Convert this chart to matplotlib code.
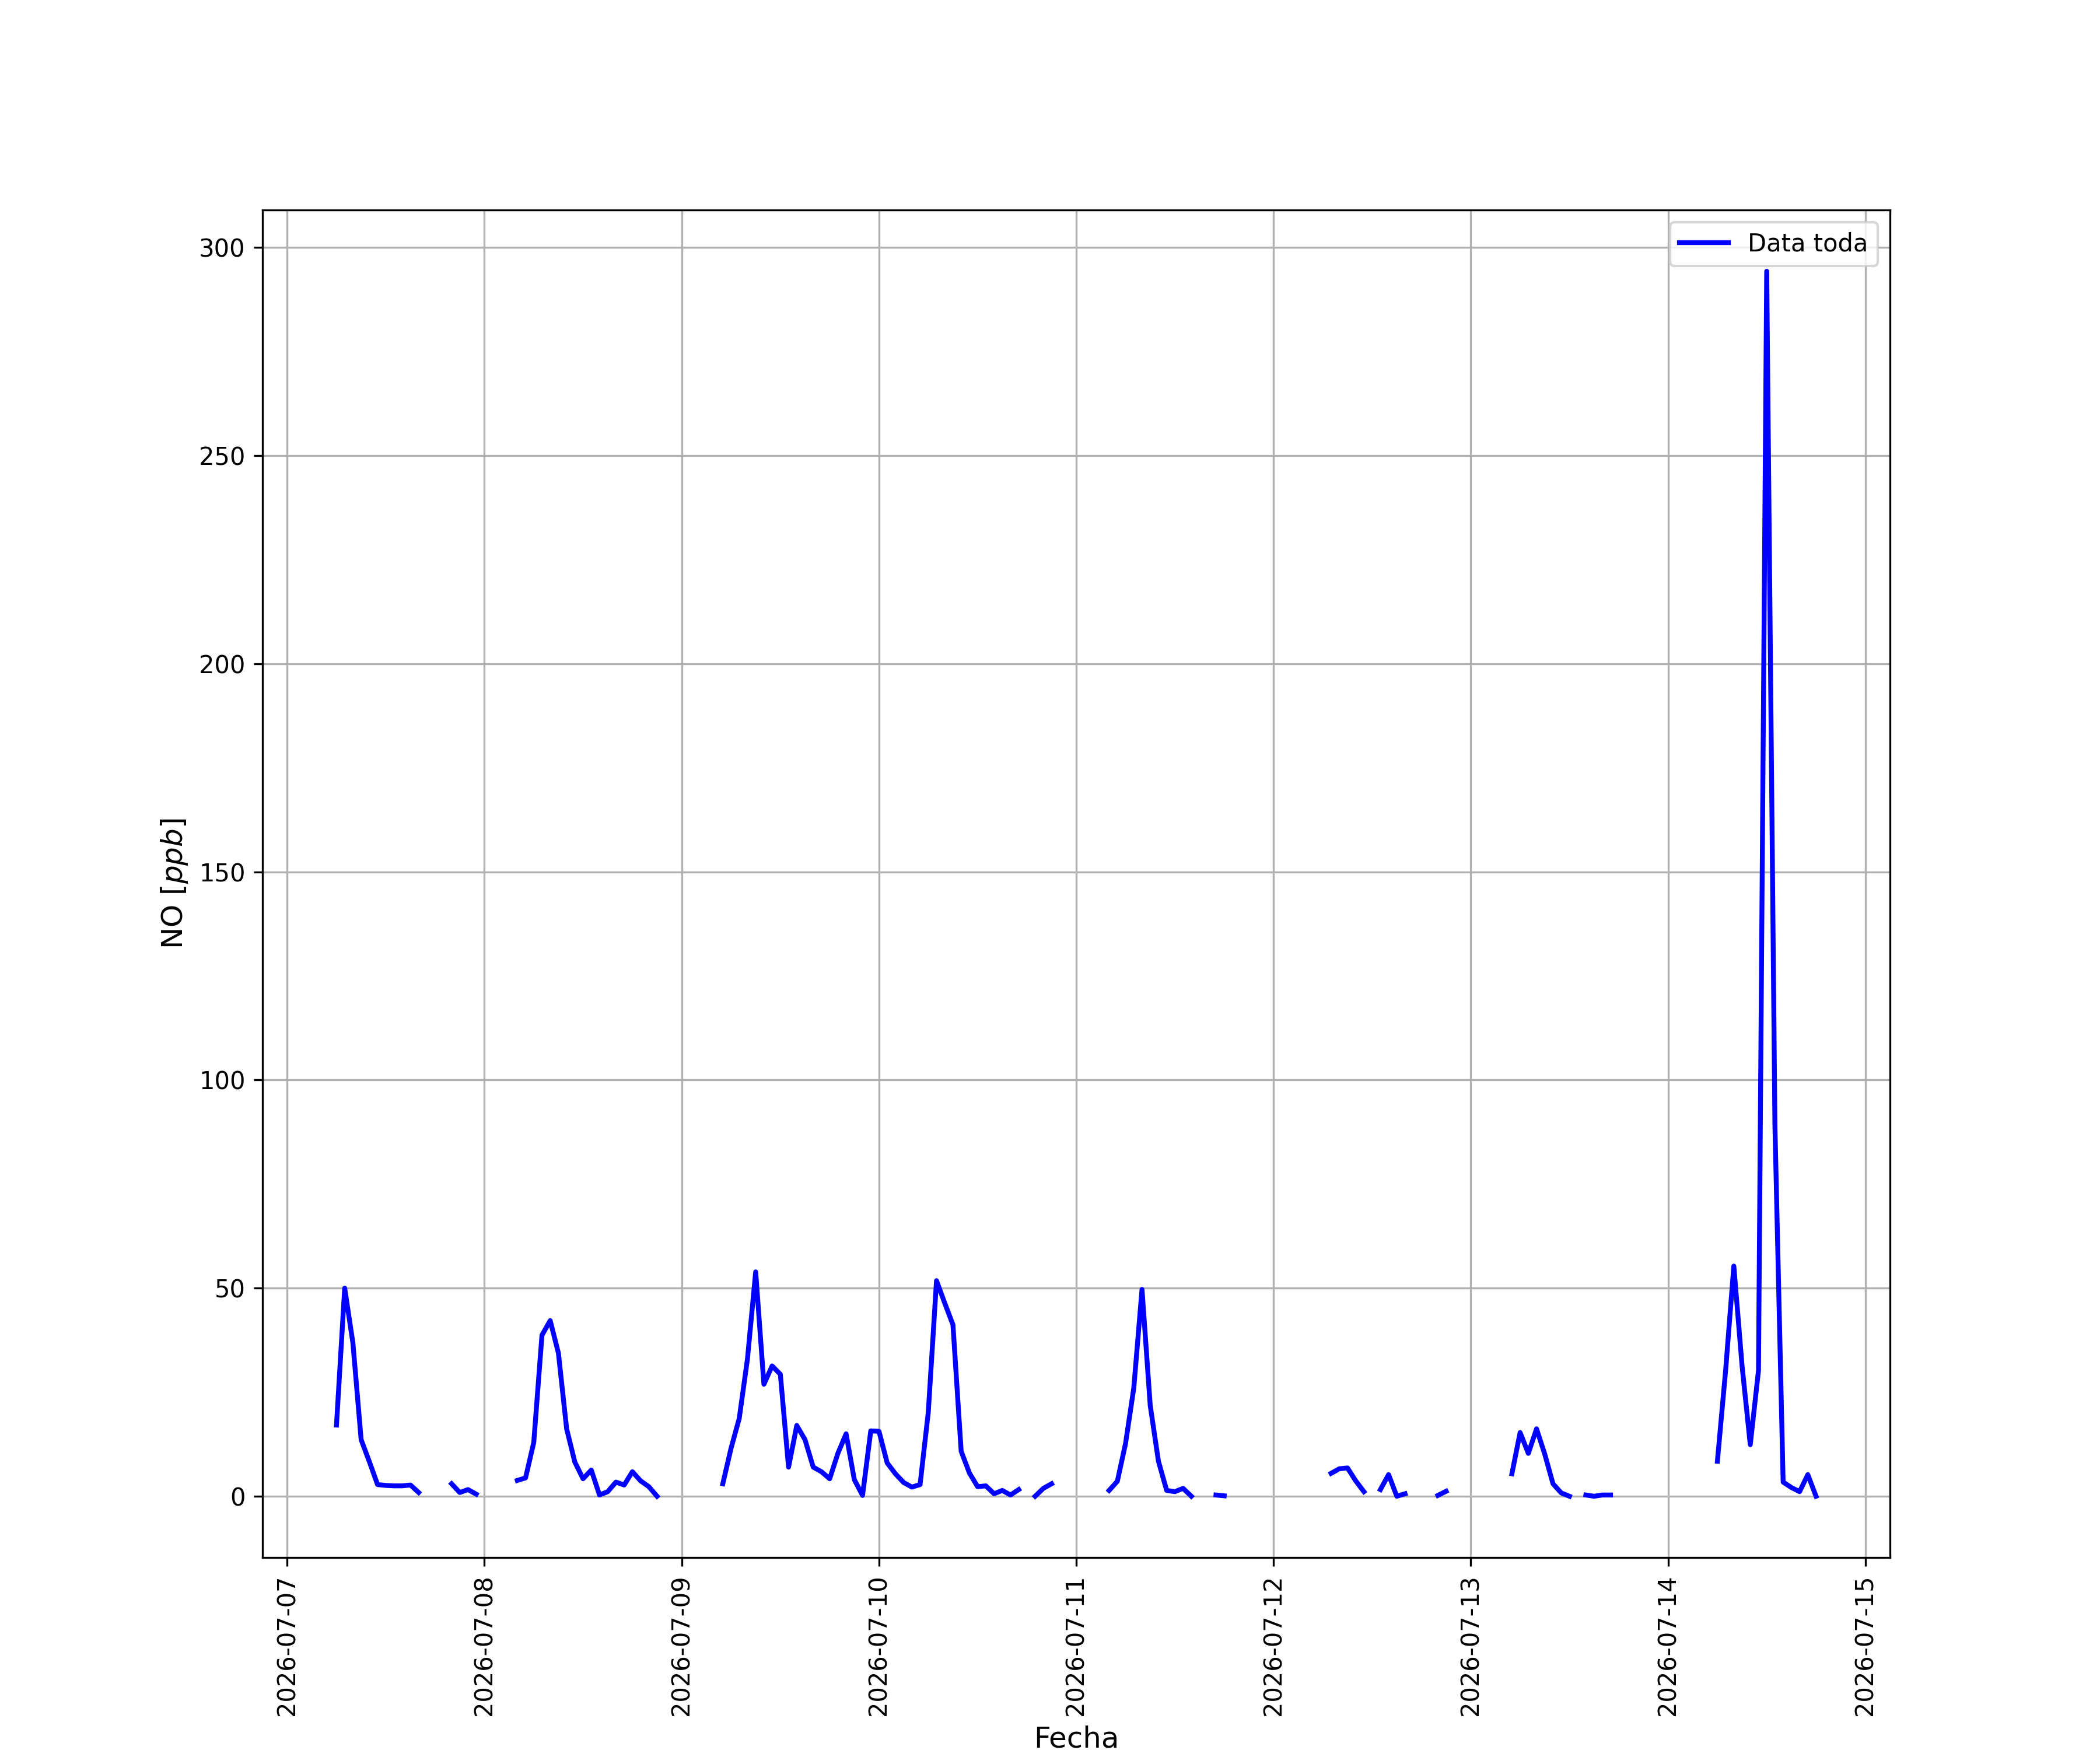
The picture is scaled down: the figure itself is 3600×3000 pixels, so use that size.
import numpy as np
import pandas as pd
import matplotlib
matplotlib.use('Agg')
import matplotlib.pyplot as plt
import matplotlib.dates as mdates

nan = np.nan

# NO horario (ppb), desde 2026-07-07 06:00
dia_07 = [17.1, 50.0, 36.8, 13.6, 8.3, 2.8, 2.6, 2.5, 2.5, 2.7, 0.9, nan,
          nan, nan, 3.0, 0.9, 1.6, 0.5]
dia_08 = [nan, nan, nan, nan, 3.8, 4.4, 12.9, 38.7, 42.2, 34.4, 16.2, 8.2,
          4.2, 6.3, 0.3, 1.1, 3.4, 2.7, 5.9, 3.7, 2.3, 0.0, nan, nan]
dia_09 = [nan, nan, nan, nan, nan, 3.0, 11.5, 18.7, 33.0, 53.9, 26.9, 31.3,
          29.3, 7.0, 17.0, 13.6, 7.0, 5.9, 4.2, 10.3, 15.0, 4.0, 0.2, 15.7]
dia_10 = [15.6, 8.0, 5.4, 3.3, 2.2, 2.8, 20.2, 51.8, 46.4, 41.2, 10.8, 5.6,
          2.3, 2.5, 0.6, 1.4, 0.3, 1.6, nan, 0.0, 1.9, 3.0, nan, nan]
dia_11 = [nan, nan, nan, nan, 1.4, 3.6, 12.7, 26.0, 49.7, 21.8, 8.4, 1.4,
          1.1, 1.9, 0.0, nan, nan, 0.3, 0.1, nan, nan, nan, nan, nan]
dia_12 = [nan, nan, nan, nan, nan, nan, nan, 5.5, 6.6, 6.8, 3.7, 1.1,
          nan, 1.6, 5.2, 0.0, 0.6, nan, nan, nan, 0.2, 1.2, nan, nan]
dia_13 = [nan, nan, nan, nan, nan, 5.4, 15.3, 10.3, 16.2, 10.1, 3.0, 0.8,
          0.0, nan, 0.3, 0.0, 0.3, 0.3, nan, nan, nan, nan, nan, nan]
dia_14 = [nan, nan, nan, nan, nan, nan, 8.4, 30.2, 55.3, 31.4, 12.4, 30.2,
          294.3, 89.0, 3.4, 2.1, 1.1, 5.2, 0.0]

no = dia_07 + dia_08 + dia_09 + dia_10 + dia_11 + dia_12 + dia_13 + dia_14
fechas = pd.date_range('2026-07-07 06:00', periods=len(no), freq='h')

fig, ax = plt.subplots(figsize=(12, 10), dpi=300)
ax.plot(fechas, no, color='blue', linewidth=2, label='Data toda')
ax.xaxis.set_major_locator(mdates.DayLocator())
ax.xaxis.set_major_formatter(mdates.DateFormatter('%Y-%m-%d'))
plt.xticks(rotation=90)
ax.set_xlabel('Fecha', fontsize=12)
ax.set_ylabel('NO [$ppb$]', fontsize=12)
ax.grid(True)
ax.legend(loc='upper right')
plt.savefig('out.png', dpi=300)
plt.close()
